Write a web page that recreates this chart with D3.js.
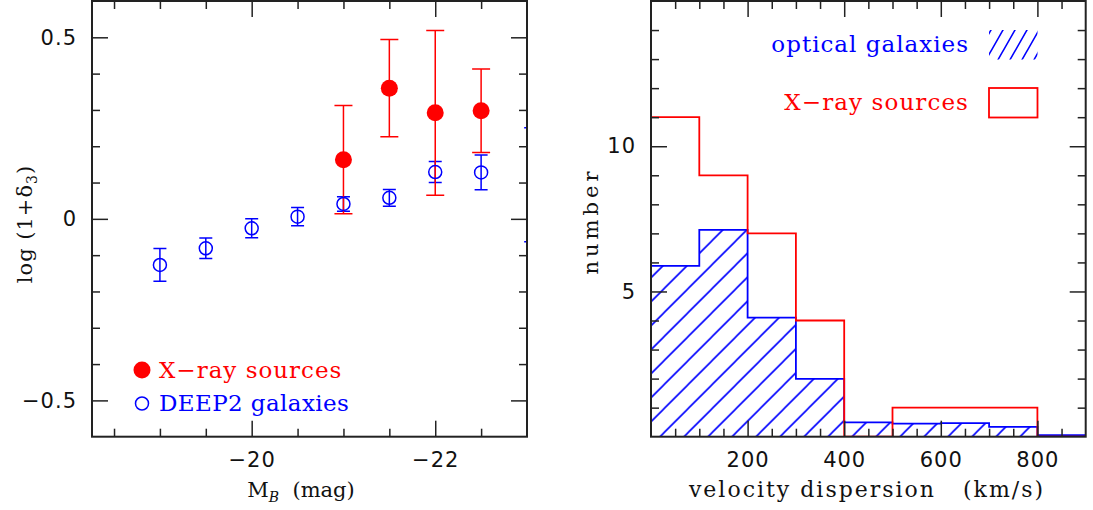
<!DOCTYPE html>
<html>
<head>
<meta charset="utf-8">
<script src="https://cdn.jsdelivr.net/npm/d3@7"></script>
<style>
  body { margin: 0; background: #fff; }
  svg { display: block; }
  .axis { color: #222; }
  .axis line { stroke-width: 1.5px; }
  .tick text { font-family: 'DejaVu Sans', sans-serif; font-size: 21px; fill: #111; letter-spacing: 1px; }
  .label { font-family: 'DejaVu Serif', serif; font-size: 21px; fill: #111; white-space: pre; }
  .legend { font-family: 'DejaVu Serif', serif; font-size: 23px; white-space: pre; }
</style>
</head>
<body>
<div id="chart"></div>
<script>
// left panel: log(1+delta_3) against M_B
const deep2Mb = [-19.0, -19.5, -20.0, -20.5, -21.0, -21.5, -22.0, -22.5, -23.04];
const deep2Density = [-0.127, -0.081, -0.026, 0.006, 0.041, 0.058, 0.129, 0.128, 0.094];
const deep2Error = [0.045, 0.028, 0.026, 0.025, 0.020, 0.023, 0.029, 0.048, 0.157];
const xrayMb = [-21.0, -21.5, -22.0, -22.5];
const xrayDensity = [0.163, 0.360, 0.292, 0.298];
const xrayError = [0.149, 0.134, 0.227, 0.115];
const mbMajorTicks = [-20, -22];
const mbMinorTicks = [-18.5, -19, -19.5, -20.5, -21, -21.5, -22.5];
const densityMajorTicks = [-0.5, 0, 0.5];
const densityMinorTicks = [-0.4, -0.3, -0.2, -0.1, 0.1, 0.2, 0.3, 0.4];

// right panel: velocity dispersion histograms
const binEdges = [0, 100, 200, 300, 400, 500, 600, 700, 800, 900];
const opticalCounts = [5.88, 7.12, 4.1, 1.99, 0.49, 0.45, 0.47, 0.34, 0.05];
const xrayCounts = [11, 9, 7, 4, 0, 1, 1, 1, 0];
const sigmaMajorTicks = [200, 400, 600, 800];
const sigmaMinorTicks = [50, 100, 150, 250, 300, 350, 450, 500, 550, 650, 700, 750, 850];
const countMajorTicks = [5, 10];
const countMinorTicks = [1, 2, 3, 4, 6, 7, 8, 9, 11, 12, 13, 14];

const RED = '#ff0000', BLUE = '#0000ff';
const W = 1093, H = 510;

const svg = d3.select('#chart').append('svg')
    .attr('width', W)
    .attr('height', H);
const defs = svg.append('defs');

// four-sided inward ticks + frame
function drawFrame(g, x, y, w, h, xMajor, xMinor, yMajor, yMinor, xFmt, yFmt) {
    const major = 16, minor = 8;
    const add = (axis, tr) => {
        const a = g.append('g').attr('class', 'axis').attr('transform', tr).call(axis);
        a.select('.domain').remove();
        return a;
    };
    add(d3.axisBottom(x).tickValues(xMinor).tickSize(-minor).tickFormat(''), `translate(0,${h})`);
    add(d3.axisBottom(x).tickValues(xMajor).tickSize(-major).tickPadding(15).tickFormat(xFmt), `translate(0,${h})`);
    add(d3.axisTop(x).tickValues(xMinor).tickSize(-minor).tickFormat(''), 'translate(0,0)');
    add(d3.axisTop(x).tickValues(xMajor).tickSize(-major).tickFormat(''), 'translate(0,0)');
    add(d3.axisLeft(y).tickValues(yMinor).tickSize(-minor).tickFormat(''), 'translate(0,0)');
    add(d3.axisLeft(y).tickValues(yMajor).tickSize(-major).tickPadding(15).tickFormat(yFmt), 'translate(0,0)');
    add(d3.axisRight(y).tickValues(yMinor).tickSize(-minor).tickFormat(''), `translate(${w},0)`);
    add(d3.axisRight(y).tickValues(yMajor).tickSize(-major).tickFormat(''), `translate(${w},0)`);
    g.append('rect')
        .attr('width', w)
        .attr('height', h)
        .attr('fill', 'none')
        .attr('stroke', '#222')
        .attr('stroke-width', 2);
}

// ---------- left panel ----------
const L = { x: 92, y: 1, w: 435, h: 435.7 };
const left = svg.append('g').attr('transform', `translate(${L.x},${L.y})`);
const xL = d3.scaleLinear().domain([-18.26, -23.0]).range([0, L.w]);
const yL = d3.scaleLinear().domain([-0.6, 0.6]).range([L.h, 0]);
const inL = m => m <= xL.domain()[0] && m >= xL.domain()[1];

defs.append('clipPath').attr('id', 'clipL')
    .append('rect').attr('width', L.w).attr('height', L.h);

const plotL = left.append('g').attr('clip-path', 'url(#clipL)');

function errorBars(g, xs, ys, es, color, cap, width) {
    const data = xs.map((m, i) => ({ x: xL(m), lo: yL(ys[i] - es[i]), hi: yL(ys[i] + es[i]) }));
    const bars = g.append('g').attr('stroke', color).attr('stroke-width', width).attr('fill', 'none');
    bars.selectAll('path')
        .data(data)
        .join('path')
        .attr('d', d => `M${d.x},${d.lo}V${d.hi}M${d.x - cap},${d.lo}H${d.x + cap}M${d.x - cap},${d.hi}H${d.x + cap}`);
}

errorBars(plotL, deep2Mb, deep2Density, deep2Error, BLUE, 6.5, 1.5);
errorBars(plotL, xrayMb, xrayDensity, xrayError, RED, 9, 1.5);

// the last DEEP2 point sits past the edge: only its caps show
plotL.append('g').selectAll('circle')
    .data(deep2Mb.map((m, i) => [m, deep2Density[i]]).filter(d => inL(d[0])))
    .join('circle')
    .attr('cx', d => xL(d[0]))
    .attr('cy', d => yL(d[1]))
    .attr('r', 6.5)
    .attr('fill', 'none')
    .attr('stroke', BLUE)
    .attr('stroke-width', 1.5);

plotL.append('g').selectAll('circle')
    .data(xrayMb)
    .join('circle')
    .attr('cx', d => xL(d))
    .attr('cy', (d, i) => yL(xrayDensity[i]))
    .attr('r', 8.5)
    .attr('fill', RED);

// legend
left.append('circle').attr('cx', 50).attr('cy', 369).attr('r', 8.5).attr('fill', RED);
left.append('text').attr('class', 'legend').attr('x', 67).attr('y', 377)
    .attr('letter-spacing', 1).attr('fill', RED).text('X\u2212ray sources');
left.append('circle').attr('cx', 50).attr('cy', 402.5).attr('r', 6.5)
    .attr('fill', 'none').attr('stroke', BLUE).attr('stroke-width', 1.5);
left.append('text').attr('class', 'legend').attr('x', 67).attr('y', 410)
    .attr('letter-spacing', 0.4).attr('fill', BLUE).text('DEEP2 galaxies');

drawFrame(left, xL, yL, L.w, L.h, mbMajorTicks, mbMinorTicks, densityMajorTicks, densityMinorTicks,
    d3.format('d'), d => d === 0 ? '0' : d3.format('.1f')(d));

const mbLabel = svg.append('text').attr('class', 'label')
    .attr('x', 301).attr('y', 497).attr('text-anchor', 'middle');
mbLabel.append('tspan').text('M');
mbLabel.append('tspan').attr('font-size', 14).attr('font-style', 'italic').attr('dy', 5).text('B');
mbLabel.append('tspan').attr('dy', -5).text('  (mag)');

const logLabel = svg.append('text').attr('class', 'label')
    .attr('transform', 'translate(32,224) rotate(-90)')
    .attr('text-anchor', 'middle')
    .attr('letter-spacing', 1);
logLabel.append('tspan').text('log (1+\u03b4');
logLabel.append('tspan').attr('font-size', 14).attr('dy', 5).text('3');
logLabel.append('tspan').attr('dy', -5).text(')');

// ---------- right panel ----------
const R = { x: 651, y: 1, w: 434.7, h: 435.7 };
const right = svg.append('g').attr('transform', `translate(${R.x},${R.y})`);
const xR = d3.scaleLinear().domain([0, 900]).range([0, R.w]);
const yR = d3.scaleLinear().domain([0, 15]).range([R.h, 0]);

defs.append('clipPath').attr('id', 'clipR')
    .append('rect').attr('width', R.w).attr('height', R.h);

const hatch = defs.append('pattern')
    .attr('id', 'hatch')
    .attr('patternUnits', 'userSpaceOnUse')
    .attr('x', 12.7).attr('y', 0)
    .attr('width', 24).attr('height', 24);
hatch.append('path')
    .attr('d', 'M-6,6L6,-6M0,24L24,0M18,30L30,18')
    .attr('stroke', BLUE).attr('stroke-width', 1.6);

const hatchKey = defs.append('pattern')
    .attr('id', 'hatchKey')
    .attr('patternUnits', 'userSpaceOnUse')
    .attr('x', 340).attr('y', 29)
    .attr('width', 12).attr('height', 21);
hatchKey.append('path')
    .attr('d', 'M-3,5.25L3,-5.25M0,21L12,0M9,26.25L15,15.75')
    .attr('stroke', BLUE).attr('stroke-width', 1.6);

const plotR = right.append('g').attr('clip-path', 'url(#clipR)');

function steps(counts) {
    const pts = [[binEdges[0], 0]];
    counts.forEach((c, i) => pts.push([binEdges[i], c]));
    pts.push([binEdges[binEdges.length - 1], 0]);
    return pts;
}

const stepLine = d3.line()
    .curve(d3.curveStepAfter)
    .x(d => xR(d[0]))
    .y(d => yR(d[1]));
const stepArea = d3.area()
    .curve(d3.curveStepAfter)
    .x(d => xR(d[0]))
    .y0(yR(0))
    .y1(d => yR(d[1]));

plotR.append('path')
    .attr('d', stepArea(steps(opticalCounts)))
    .attr('fill', 'url(#hatch)');
plotR.append('path')
    .attr('d', stepLine(steps(opticalCounts)))
    .attr('fill', 'none')
    .attr('stroke', BLUE)
    .attr('stroke-width', 1.8);
plotR.append('path')
    .attr('d', stepLine(steps(xrayCounts)))
    .attr('fill', 'none')
    .attr('stroke', RED)
    .attr('stroke-width', 1.8);

// legend
right.append('text').attr('class', 'legend').attr('x', 318).attr('y', 51)
    .attr('text-anchor', 'end').attr('letter-spacing', 1).attr('fill', BLUE).text('optical galaxies');
right.append('rect').attr('x', 338).attr('y', 29).attr('width', 48.5).attr('height', 29.5)
    .attr('fill', 'url(#hatchKey)');
right.append('text').attr('class', 'legend').attr('x', 318).attr('y', 109)
    .attr('text-anchor', 'end').attr('letter-spacing', 1.1).attr('fill', RED).text('X\u2212ray sources');
right.append('rect').attr('x', 338).attr('y', 87).attr('width', 48.5).attr('height', 29.5)
    .attr('fill', 'none').attr('stroke', RED).attr('stroke-width', 1.8);

drawFrame(right, xR, yR, R.w, R.h, sigmaMajorTicks, sigmaMinorTicks, countMajorTicks, countMinorTicks,
    d3.format('d'), d3.format('d'));

svg.append('text').attr('class', 'label')
    .attr('x', 867).attr('y', 497)
    .attr('text-anchor', 'middle')
    .attr('letter-spacing', 2)
    .style('font-size', '22px')
    .text('velocity dispersion   (km/s)');

svg.append('text').attr('class', 'label')
    .attr('transform', 'translate(598,221) rotate(-90)')
    .attr('text-anchor', 'middle')
    .attr('letter-spacing', 4)
    .text('number');
</script>
</body>
</html>
